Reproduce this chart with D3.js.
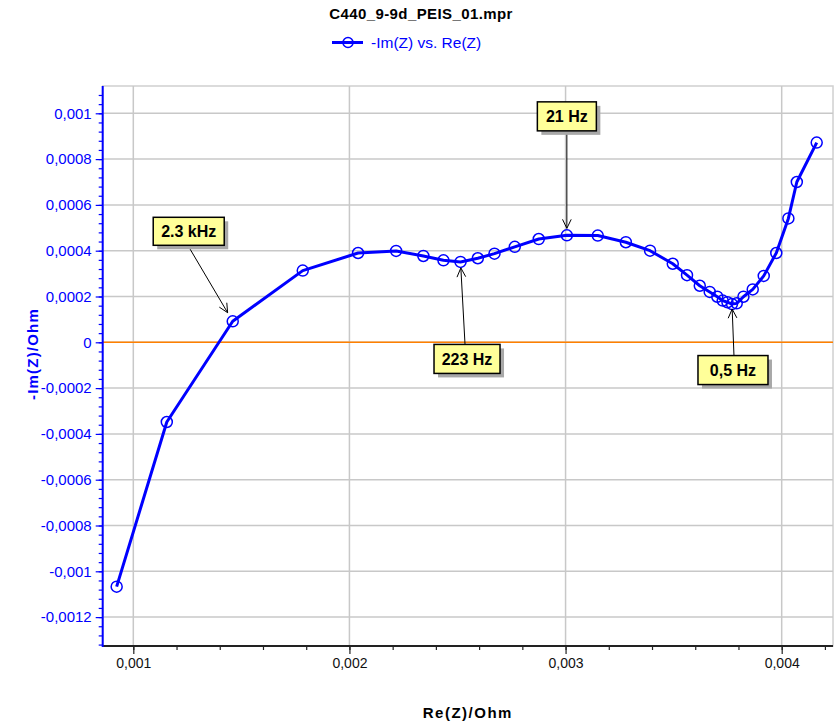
<!DOCTYPE html>
<html>
<head>
<meta charset="utf-8">
<script src="https://cdn.jsdelivr.net/npm/d3@7"></script>
<style>
  html, body { margin: 0; padding: 0; background: #ffffff; }
  svg { display: block; font-family: "Liberation Sans", Arial, sans-serif; }
</style>
</head>
<body>
<svg id="chart" width="835" height="724"></svg>
<script>
// Nyquist data: Re(Z) and -Im(Z) in Ohm
const reZ = [
  0.000923, 0.001155, 0.001460, 0.001784, 0.002040, 0.002216, 0.002342, 0.002435,
  0.002514, 0.002594, 0.002671, 0.002765, 0.002876, 0.003006, 0.003149, 0.003279,
  0.003391, 0.003496, 0.003562, 0.003621, 0.003667, 0.003702, 0.003727, 0.003749,
  0.003770, 0.003792, 0.003823, 0.003866, 0.003917, 0.003975, 0.004031, 0.004070,
  0.004162
];
const negImZ = [
  -0.001067, -0.000348, 0.0000917, 0.000313, 0.000390, 0.000399, 0.000377, 0.000358,
  0.000351, 0.000367, 0.000387, 0.000417, 0.000451, 0.000467, 0.000466, 0.000437,
  0.000400, 0.000343, 0.000293, 0.000247, 0.000220, 0.000199, 0.000182, 0.000175,
  0.000167, 0.000170, 0.000199, 0.000231, 0.000290, 0.000390, 0.000541, 0.000700,
  0.000872
];

// Frequency annotations and the index of the point each one marks
const annotationLabels = ["2.3 kHz", "21 Hz", "223 Hz", "0,5 Hz"];
const annotationPoints = [2, 13, 8, 24];

// Axis ticks
const xTicks = [0.001, 0.002, 0.003, 0.004];
const xTickLabels = ["0,001", "0,002", "0,003", "0,004"];
const yTicks = [-0.0012, -0.001, -0.0008, -0.0006, -0.0004, -0.0002, 0, 0.0002, 0.0004, 0.0006, 0.0008, 0.001];
const yTickLabels = ["-0,0012", "-0,001", "-0,0008", "-0,0006", "-0,0004", "-0,0002", "0", "0,0002", "0,0004", "0,0006", "0,0008", "0,001"];

const title = "C440_9-9d_PEIS_01.mpr";
const seriesName = "-Im(Z) vs. Re(Z)";
const xTitle = "Re(Z)/Ohm";
const yTitle = "-Im(Z)/Ohm";

const svg = d3.select("#chart");
const plotL = 102.7, plotR = 833, plotT = 86, plotB = 646;

const x = d3.scaleLinear().domain([0.0008584, 0.0042374]).range([plotL, plotR]);
const y = d3.scaleLinear().domain([-0.0013262, 0.0011192]).range([plotB, plotT]);

const blue = "#0000ff";

// Plot frame
svg.append("rect")
  .attr("x", plotL).attr("y", plotT)
  .attr("width", plotR - plotL).attr("height", plotB - plotT)
  .attr("fill", "none").attr("stroke", "#d0d0d0").attr("stroke-width", 1.5);

// Grid
const grid = svg.append("g").attr("stroke", "#c8c8c8").attr("stroke-width", 1.5);
grid.selectAll("line.vx").data(xTicks).join("line")
  .attr("x1", d => x(d)).attr("x2", d => x(d))
  .attr("y1", plotT).attr("y2", plotB);
grid.selectAll("line.hy").data(yTicks).join("line")
  .attr("x1", plotL).attr("x2", plotR)
  .attr("y1", d => y(d)).attr("y2", d => y(d));

// Zero line
svg.append("line")
  .attr("x1", plotL).attr("x2", plotR)
  .attr("y1", y(0)).attr("y2", y(0))
  .attr("stroke", "#ff8000").attr("stroke-width", 1.5);

// X axis
const xMinorVals = d3.range(5, 22).map(k => k * 0.0002).filter(v => x(v) >= plotL && x(v) <= plotR);
const xAxisMinor = d3.axisBottom(x).tickValues(xMinorVals).tickSize(4).tickFormat("");
svg.append("g").attr("transform", `translate(0,${plotB})`).call(xAxisMinor)
  .call(g => g.select(".domain").remove())
  .call(g => g.selectAll("line").attr("stroke", "#222").attr("stroke-width", 1.2));
const xAxis = d3.axisBottom(x).tickValues(xTicks).tickSize(8).tickPadding(4)
  .tickFormat((d, i) => xTickLabels[i]);
svg.append("g").attr("transform", `translate(0,${plotB})`).call(xAxis)
  .call(g => g.select(".domain").remove())
  .call(g => g.selectAll("line").attr("stroke", "#222").attr("stroke-width", 1.2))
  .call(g => g.selectAll("text").attr("fill", "#111").attr("font-size", 14)
    .attr("font-family", "Liberation Sans, Arial, sans-serif"));
svg.append("line").attr("x1", plotL).attr("x2", plotR).attr("y1", plotB).attr("y2", plotB)
  .attr("stroke", "#222").attr("stroke-width", 2);

// Y axis
const yMinorVals = d3.range(-33, 29).map(k => k * 0.00004).filter(v => y(v) >= plotT && y(v) <= plotB);
const yAxisMinor = d3.axisLeft(y).tickValues(yMinorVals).tickSize(4).tickFormat("");
svg.append("g").attr("transform", `translate(${plotL},0)`).call(yAxisMinor)
  .call(g => g.select(".domain").remove())
  .call(g => g.selectAll("line").attr("stroke", blue).attr("stroke-width", 1.2));
const yAxis = d3.axisLeft(y).tickValues(yTicks).tickSize(7).tickPadding(4)
  .tickFormat((d, i) => yTickLabels[i]);
svg.append("g").attr("transform", `translate(${plotL},0)`).call(yAxis)
  .call(g => g.select(".domain").remove())
  .call(g => g.selectAll("line").attr("stroke", blue).attr("stroke-width", 1.2))
  .call(g => g.selectAll("text").attr("fill", blue).attr("font-size", 15)
    .attr("font-family", "Liberation Sans, Arial, sans-serif"));
svg.append("line").attr("x1", plotL).attr("x2", plotL).attr("y1", plotT).attr("y2", plotB + 1)
  .attr("stroke", blue).attr("stroke-width", 2);

// Data line and markers
const pts = reZ.map((v, i) => [v, negImZ[i]]);
svg.append("path")
  .datum(pts)
  .attr("fill", "none").attr("stroke", blue).attr("stroke-width", 3)
  .attr("stroke-linejoin", "round")
  .attr("d", d3.line().x(d => x(d[0])).y(d => y(d[1])));
svg.append("g").selectAll("circle").data(pts).join("circle")
  .attr("cx", d => x(d[0])).attr("cy", d => y(d[1])).attr("r", 5.5)
  .attr("fill", "none").attr("stroke", blue).attr("stroke-width", 1.5);

// Annotations: box offset from marked point and arrow tail on box edge
const boxLayout = [
  { dx: -44, dy: -90, w: 71, h: 28, ax: 0, ay: 15.5, shorten: 10 },
  { dx: 0, dy: -119, w: 59, h: 29, ax: 0, ay: 15, shorten: 7 },
  { dx: 6.5, dy: 97, w: 66, h: 29, ax: -2, ay: -14.5, shorten: 6 },
  { dx: 1, dy: 66, w: 70, h: 29, ax: 1, ay: -14.5, shorten: 5 }
];
const ann = svg.append("g");
annotationLabels.forEach((label, i) => {
  const p = pts[annotationPoints[i]];
  const px = x(p[0]), py = y(p[1]);
  const L = boxLayout[i];
  const cx = px + L.dx, cy = py + L.dy;
  // arrow
  const sx = cx + L.ax, sy = cy + L.ay;
  const ang = Math.atan2(py - sy, px - sx);
  const ex = px - Math.cos(ang) * L.shorten, ey = py - Math.sin(ang) * L.shorten;
  ann.append("line").attr("x1", sx).attr("y1", sy).attr("x2", ex).attr("y2", ey)
    .attr("stroke", "#000").attr("stroke-width", 1);
  const hl = 10, ha = Math.PI / 7;
  ann.append("path")
    .attr("d", `M${ex - hl * Math.cos(ang - ha)},${ey - hl * Math.sin(ang - ha)}L${ex},${ey}L${ex - hl * Math.cos(ang + ha)},${ey - hl * Math.sin(ang + ha)}`)
    .attr("fill", "none").attr("stroke", "#000").attr("stroke-width", 1);
  // shadow + box
  ann.append("rect").attr("x", cx - L.w / 2 + 4).attr("y", cy - L.h / 2 + 4)
    .attr("width", L.w).attr("height", L.h).attr("fill", "#a8a8a8");
  ann.append("rect").attr("x", cx - L.w / 2).attr("y", cy - L.h / 2)
    .attr("width", L.w).attr("height", L.h)
    .attr("fill", "#ffff99").attr("stroke", "#000").attr("stroke-width", 1.5);
  ann.append("text").attr("x", cx).attr("y", cy + 6)
    .attr("text-anchor", "middle").attr("font-weight", "bold").attr("font-size", 16)
    .attr("fill", "#000").text(label);
});

// Title and legend
svg.append("text").attr("x", 421).attr("y", 19).attr("text-anchor", "middle")
  .attr("font-weight", "bold").attr("font-size", 15).attr("letter-spacing", 0.4)
  .attr("fill", "#000").text(title);
svg.append("line").attr("x1", 332).attr("x2", 363).attr("y1", 42.5).attr("y2", 42.5)
  .attr("stroke", blue).attr("stroke-width", 3);
svg.append("circle").attr("cx", 348).attr("cy", 42.5).attr("r", 5)
  .attr("fill", "none").attr("stroke", blue).attr("stroke-width", 1.5);
svg.append("text").attr("x", 371).attr("y", 48).attr("font-size", 15.5)
  .attr("fill", blue).text(seriesName);

// Axis titles
svg.append("text").attr("x", (plotL + plotR) / 2).attr("y", 718).attr("text-anchor", "middle")
  .attr("font-weight", "bold").attr("font-size", 15).attr("letter-spacing", 1.5)
  .attr("fill", "#000").text(xTitle);
svg.append("text").attr("transform", "translate(38,354) rotate(-90)").attr("text-anchor", "middle")
  .attr("font-weight", "bold").attr("font-size", 15).attr("letter-spacing", 1.2)
  .attr("fill", blue).text(yTitle);
</script>
</body>
</html>
